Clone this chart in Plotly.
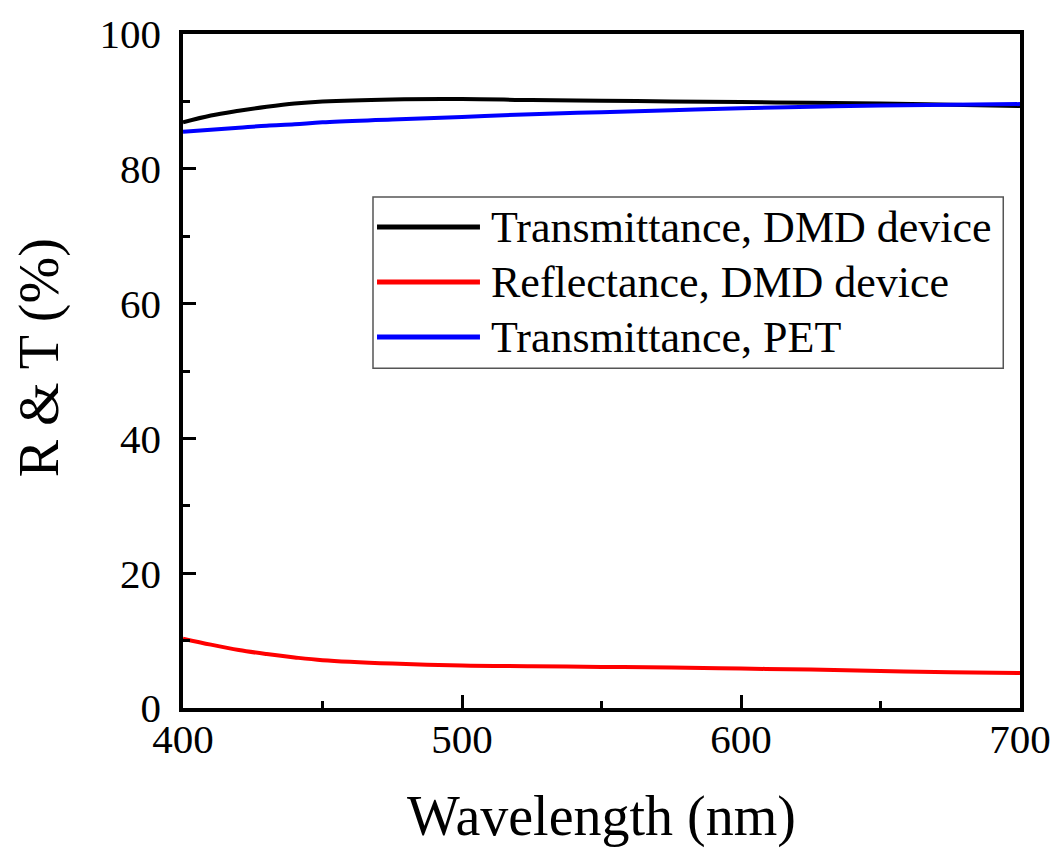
import plotly.graph_objects as go

# ---- data ----
wavelength = [400, 410, 420, 430, 440, 450, 475, 500, 525, 550, 575, 600, 625, 650, 675, 700]
t_dmd = [86.9, 87.9, 88.6, 89.2, 89.7, 90.0, 90.3, 90.35, 90.2, 90.1, 90.0, 89.9, 89.8, 89.7, 89.5, 89.3]
r_dmd = [10.3, 9.4, 8.6, 8.0, 7.5, 7.1, 6.6, 6.3, 6.2, 6.1, 6.0, 5.85, 5.7, 5.5, 5.3, 5.2]
t_pet = [85.5, 85.8, 86.1, 86.4, 86.6, 86.9, 87.3, 87.7, 88.1, 88.4, 88.7, 89.0, 89.2, 89.4, 89.5, 89.6]

series_names = ["Transmittance, DMD device", "Reflectance, DMD device", "Transmittance, PET"]
series_values = [t_dmd, r_dmd, t_pet]
series_colors = ["#000000", "#ff0000", "#0000ff"]

x_ticks = [400, 500, 600, 700]
x_minor = [450, 550, 650]
y_ticks = [0, 20, 40, 60, 80, 100]
y_minor = [10, 30, 50, 70, 90]
x_title = "Wavelength (nm)"
y_title = "R &amp; T (%)"

FONT = "Liberation Serif, Times New Roman, serif"

fig = go.Figure()
for name, vals, col in zip(series_names, series_values, series_colors):
    fig.add_trace(go.Scatter(x=wavelength, y=vals, mode="lines", name=name,
                             line=dict(color=col, width=4, shape="spline"),
                             showlegend=False))

# custom legend (long line samples like the original)
box = dict(x0=0.227, x1=0.980, y0=0.504, y1=0.758)
fig.add_shape(type="rect", xref="paper", yref="paper", **box,
              line=dict(color="#555555", width=1.5), fillcolor="rgba(0,0,0,0)")
row_y = [0.7136, 0.632, 0.5504]
for name, col, yy in zip(series_names, series_colors, row_y):
    fig.add_shape(type="line", xref="paper", yref="paper", x0=0.2318, x1=0.3548,
                  y0=yy, y1=yy, line=dict(color=col, width=5))
    fig.add_annotation(xref="paper", yref="paper", x=0.3655, y=yy, text=name,
                       showarrow=False, xanchor="left", yanchor="middle",
                       font=dict(family=FONT, size=44, color="black"))

# y-axis title as rotated text (positioned like the original)
fig.add_annotation(xref="paper", yref="paper", x=-0.172, y=0.519, text=y_title,
                   textangle=-90, showarrow=False, xanchor="center", yanchor="middle",
                   font=dict(family=FONT, size=56, color="black"))

axis_common = dict(
    showline=True, linecolor="black", linewidth=3.5, mirror=True,
    ticks="inside", tickwidth=3, ticklen=13, tickcolor="black",
    showgrid=False, zeroline=False,
    tickfont=dict(family=FONT, size=41, color="black"),
)

fig.update_xaxes(range=[400, 700], tickvals=x_ticks, ticklabelstandoff=-8,
                 minor=dict(tickvals=x_minor, ticks="inside", ticklen=7, tickwidth=3, tickcolor="black"),
                 title=dict(text=x_title, font=dict(family=FONT, size=56, color="black"), standoff=36),
                 **axis_common)
fig.update_yaxes(range=[0, 100], tickvals=y_ticks, ticklabelstandoff=10,
                 minor=dict(tickvals=y_minor, ticks="inside", ticklen=7, tickwidth=3, tickcolor="black"),
                 **axis_common)

fig.update_layout(
    width=1057, height=850,
    margin=dict(l=183, r=37, t=34, b=142, autoexpand=False),
    plot_bgcolor="white", paper_bgcolor="white",
    font=dict(family=FONT, color="black"),
)

fig.write_html("out.html")
